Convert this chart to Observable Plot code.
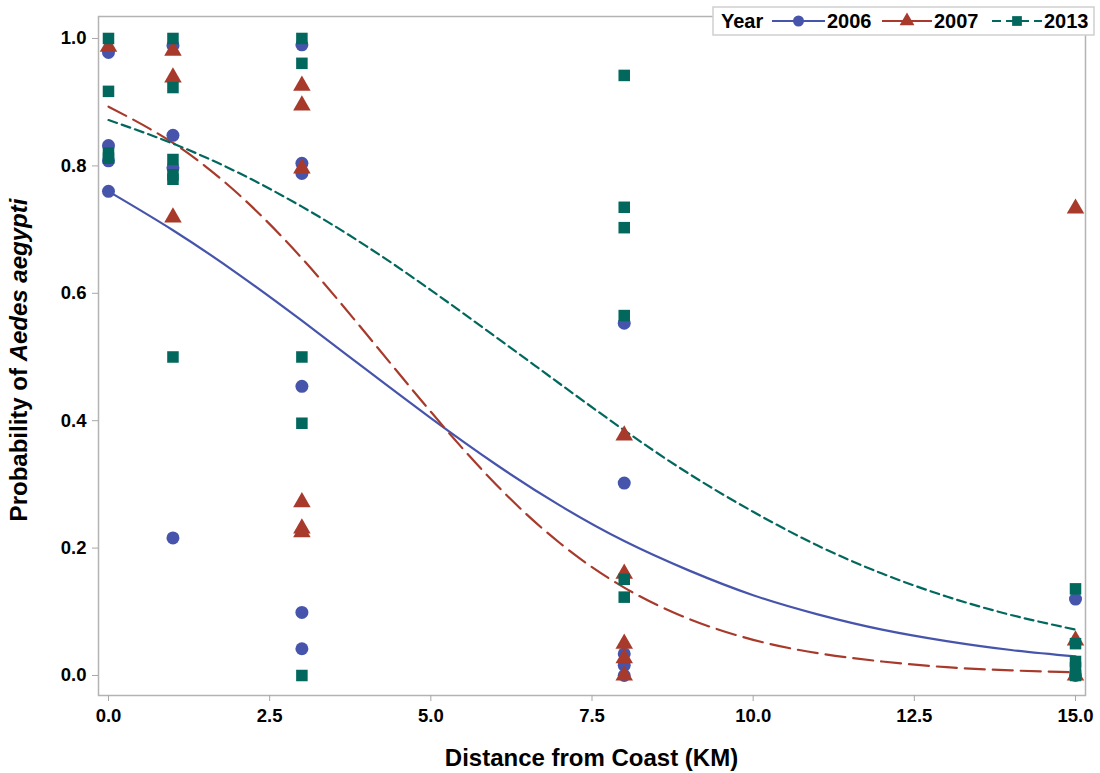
<!DOCTYPE html>
<html>
<head>
<meta charset="utf-8">
<script src="https://cdn.jsdelivr.net/npm/d3@7"></script>
<script src="https://cdn.jsdelivr.net/npm/@observablehq/plot@0.6"></script>
<style>
  html, body { margin: 0; padding: 0; background: #fff; }
  #chart { width: 1100px; height: 773px; }
</style>
</head>
<body>
<div id="chart"></div>
<script>
// ---- observed points (distance km, probability) ----
const years = ["2006", "2007", "2013"];
const colors = ["#4655ab", "#a83a2c", "#02685e"];
const symbols = ["circle", "triangle", "square"];

const pts2006_x = [0, 0, 0, 0, 1, 1, 1, 1, 3, 3, 3, 3, 3, 3, 8, 8, 8, 8, 8, 15, 15];
const pts2006_y = [0.978, 0.832, 0.808, 0.760, 0.989, 0.848, 0.797, 0.216, 0.990, 0.804, 0.788, 0.454, 0.099, 0.042, 0.553, 0.302, 0.034, 0.016, 0.000, 0.120, 0.000];

const pts2007_x = [0, 1, 1, 1, 3, 3, 3, 3, 3, 3, 8, 8, 8, 8, 8, 15, 15, 15];
const pts2007_y = [0.987, 0.981, 0.939, 0.719, 0.926, 0.895, 0.796, 0.272, 0.231, 0.225, 0.377, 0.160, 0.050, 0.027, 0.000, 0.733, 0.055, 0.000];

const pts2013_x = [0, 0, 0, 0, 1, 1, 1, 1, 1, 1, 3, 3, 3, 3, 3, 8, 8, 8, 8, 8, 8, 15, 15, 15, 15, 15];
const pts2013_y = [1.000, 0.917, 0.820, 0.812, 1.000, 0.923, 0.810, 0.786, 0.779, 0.500, 1.000, 0.961, 0.500, 0.396, 0.000, 0.942, 0.735, 0.703, 0.565, 0.151, 0.123, 0.136, 0.050, 0.022, 0.012, 0.000];

// ---- fitted curves at each km ----
const curve_x = [0, 1, 2, 3, 4, 5, 6, 7, 8, 9, 10, 11, 12, 13, 14, 15];
const fit2006 = [0.760, 0.699, 0.631, 0.557, 0.480, 0.404, 0.332, 0.267, 0.211, 0.165, 0.126, 0.096, 0.072, 0.054, 0.040, 0.030];
const fit2007 = [0.893, 0.836, 0.757, 0.655, 0.536, 0.414, 0.301, 0.208, 0.138, 0.089, 0.056, 0.035, 0.022, 0.013, 0.008, 0.005];
const fit2013 = [0.872, 0.835, 0.790, 0.736, 0.674, 0.605, 0.532, 0.458, 0.385, 0.317, 0.257, 0.204, 0.160, 0.124, 0.095, 0.072];

const xTicks = [0, 2.5, 5, 7.5, 10, 12.5, 15];
const yTicks = [0, 0.2, 0.4, 0.6, 0.8, 1.0];

// build tables
const ptsX = [pts2006_x, pts2007_x, pts2013_x];
const ptsY = [pts2006_y, pts2007_y, pts2013_y];
const fits = [fit2006, fit2007, fit2013];
const points = [];
years.forEach((yr, i) => ptsX[i].forEach((x, j) => points.push({year: yr, x, y: ptsY[i][j]})));
const curves = years.map((yr, i) => curve_x.map((x, j) => ({year: yr, x, y: fits[i][j]})));

const dashes = [null, "20,8", "9,5"];
const font = "'Liberation Sans', Arial, sans-serif";

const plot = Plot.plot({
  width: 1100,
  height: 773,
  marginLeft: 98,
  marginRight: 15,
  marginTop: 16,
  marginBottom: 78,
  style: {fontFamily: font, color: "#000", background: "#fff"},
  x: {domain: [-0.155, 15.155], label: null},
  y: {domain: [-0.0314, 1.0345], label: null},
  color: {domain: years, range: colors},
  symbol: {domain: years, range: symbols},
  marks: [
    Plot.frame({stroke: "#b3b3b3", strokeWidth: 1.5}),
    Plot.axisX({ticks: xTicks, tickFormat: d3.format(".1f"), tickSize: 6, tickPadding: 7, stroke: "#a8a8a8", fill: "#000", label: null}),
    Plot.axisY({ticks: yTicks, tickFormat: d3.format(".1f"), tickSize: 6, tickPadding: 6, stroke: "#a8a8a8", fill: "#000", label: null}),
    ...curves.map((c, i) => Plot.line(c, {x: "x", y: "y", stroke: colors[i], strokeWidth: 2.2, strokeDasharray: dashes[i], curve: "natural"})),
    Plot.dot(points, {x: "x", y: "y", fill: "year", symbol: "year", r: 6.5, stroke: null})
  ]
});

document.getElementById("chart").appendChild(plot);

const svg = d3.select(plot);
// tick labels: the only text elements so far
svg.selectAll("text")
  .style("font-size", "18.5px").style("font-weight", "bold").style("font-family", font).style("fill", "#000");

// axis titles
svg.append("text")
  .attr("x", (98 + 1085) / 2).attr("y", 766)
  .attr("text-anchor", "middle")
  .style("font-family", font).style("font-size", "24px").style("font-weight", "bold")
  .text("Distance from Coast (KM)");

const yl = svg.append("text")
  .attr("transform", "translate(27,360) rotate(-90)")
  .attr("text-anchor", "middle")
  .style("font-family", font).style("font-size", "24px").style("font-weight", "bold");
yl.append("tspan").text("Probability of ");
yl.append("tspan").style("font-style", "italic").text("Aedes aegypti");

// legend
const lg = svg.append("g").style("font-family", font).style("font-weight", "bold").style("font-size", "20px")
  .attr("text-anchor", "start");
lg.append("rect").attr("x", 713).attr("y", 7).attr("width", 381).attr("height", 28)
  .attr("fill", "#fff").attr("stroke", "#cfcfcf").attr("stroke-width", 1.5);
lg.append("text").attr("x", 721).attr("y", 28).attr("text-anchor", "start").text("Year");
const items = [
  {x0: 772, x1: 825, tx: 827},
  {x0: 882, x1: 932, tx: 934},
  {x0: 992, x1: 1042, tx: 1044}
];
const symTypes = [d3.symbolCircle, d3.symbolTriangle, d3.symbolSquare];
items.forEach((it, i) => {
  lg.append("line").attr("x1", it.x0).attr("x2", it.x1).attr("y1", 21).attr("y2", 21)
    .attr("stroke", colors[i]).attr("stroke-width", 2.2)
    .attr("stroke-dasharray", i === 2 ? "9,5" : null);
  lg.append("path").attr("d", d3.symbol(symTypes[i], Math.PI * 5.5 * 5.5)())
    .attr("transform", `translate(${(it.x0 + it.x1) / 2},21)`).attr("fill", colors[i]);
  lg.append("text").attr("x", it.tx).attr("y", 28).attr("text-anchor", "start").text(years[i]);
});
</script>
</body>
</html>
